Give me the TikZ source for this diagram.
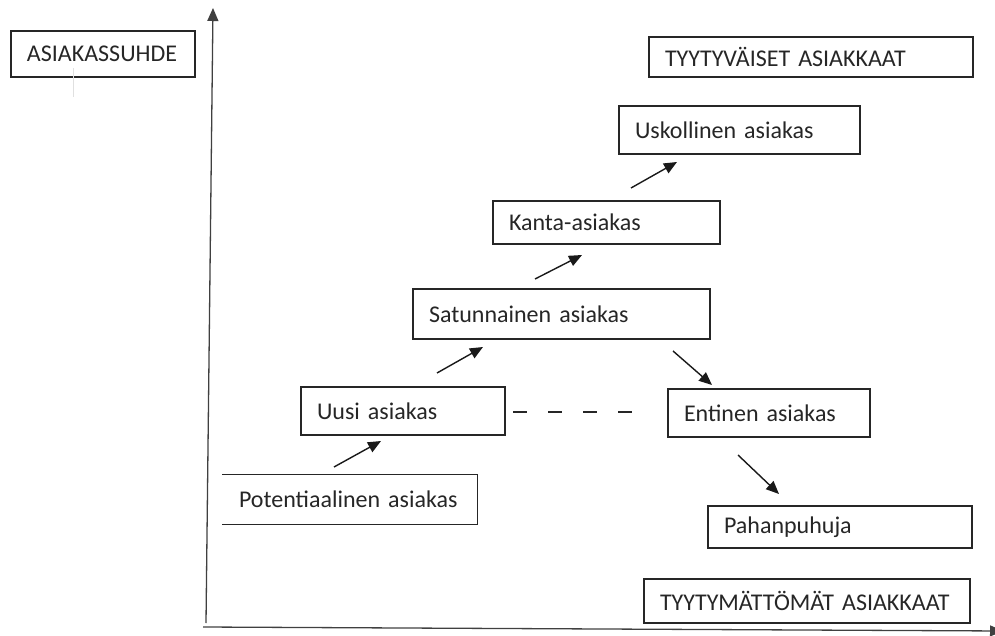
\documentclass[tikz,border=0pt]{standalone}
\usepackage{fontspec}
\setmainfont{Carlito}
\usetikzlibrary{arrows.meta}

\begin{document}
\begin{tikzpicture}[x=1pt, y=-1pt, >={Triangle[length=13pt,width=11pt]},
    every node/.style={font=\fontsize{24}{28}\selectfont, text=black!85},
    box/.style={draw=black!85, line width=1.3pt, inner xsep=16pt, inner ysep=0pt, align=left},
    axis/.style={->, line width=1.3pt, draw=black!75},
    move/.style={->, line width=1.4pt, draw=black!90},
    gap/.style={line width=1.3pt, draw=black!85, dash pattern=on 14pt off 21pt}]
    \useasboundingbox (0,0) rectangle (995,636);

    \draw[axis] (206,623) coordinate (origin) -- (213,8) coordinate (ytip);
    \draw[axis] (203,627) coordinate (xstart) -- (1003,631) coordinate (xtip);

    \node[box, minimum width=184, minimum height=46, text width=152] (suhde)  at (103,54)    {ASIAKASSUHDE};
    \node[box, minimum width=324, minimum height=40, text width=292] (tyyt)   at (811,57)    {TYYTYVÄISET ASIAKKAAT};
    \node[box, minimum width=241, minimum height=48, text width=209] (usk)    at (739.5,130) {Uskollinen asiakas};
    \node[box, minimum width=227, minimum height=43, text width=195] (kanta)  at (606.5,222.5) {Kanta-asiakas};
    \node[box, minimum width=297, minimum height=50, text width=265] (sat)    at (561.5,314) {Satunnainen asiakas};
    \node[box, minimum width=204, minimum height=48, text width=172] (uusi)   at (403,411)   {Uusi asiakas};
    \node[box, minimum width=202, minimum height=48, text width=170] (ent)    at (769,413)   {Entinen asiakas};
    \node[box, draw=none, minimum width=254, minimum height=49, text width=222] (pot) at (350,499.5) {Potentiaalinen asiakas};
    \node[box, minimum width=264, minimum height=42, text width=232] (pahan)  at (840,527)   {Pahanpuhuja};
    \node[box, minimum width=326, minimum height=44, text width=294] (tyytm)  at (807,601)   {TYYTYMÄTTÖMÄT ASIAKKAAT};

    \draw[box] (pot.north west) -| (pot.south east) -- (pot.south west);
    \draw[black!12, line width=0.8pt] (73,68) coordinate (mark1) -- (73,97) coordinate (mark2);

    \coordinate (p1) at (334,467);  \coordinate (q1) at (381,441);
    \coordinate (p2) at (437,373);  \coordinate (q2) at (483,347);
    \coordinate (p3) at (535,279);  \coordinate (q3) at (582,255);
    \coordinate (p4) at (631,188);  \coordinate (q4) at (677,162);
    \coordinate (p5) at (673,351);  \coordinate (q5) at (712,385);
    \coordinate (p6) at (738,455);  \coordinate (q6) at (779,494);
    \coordinate (d1) at (513,412);  \coordinate (d2) at (632,412);

    \draw[move] (p1) -- (q1);
    \draw[move] (p2) -- (q2);
    \draw[move] (p3) -- (q3);
    \draw[move] (p4) -- (q4);
    \draw[move] (p5) -- (q5);
    \draw[move] (p6) -- (q6);
    \draw[gap] (d1) -- (d2);
\end{tikzpicture}
\end{document}
